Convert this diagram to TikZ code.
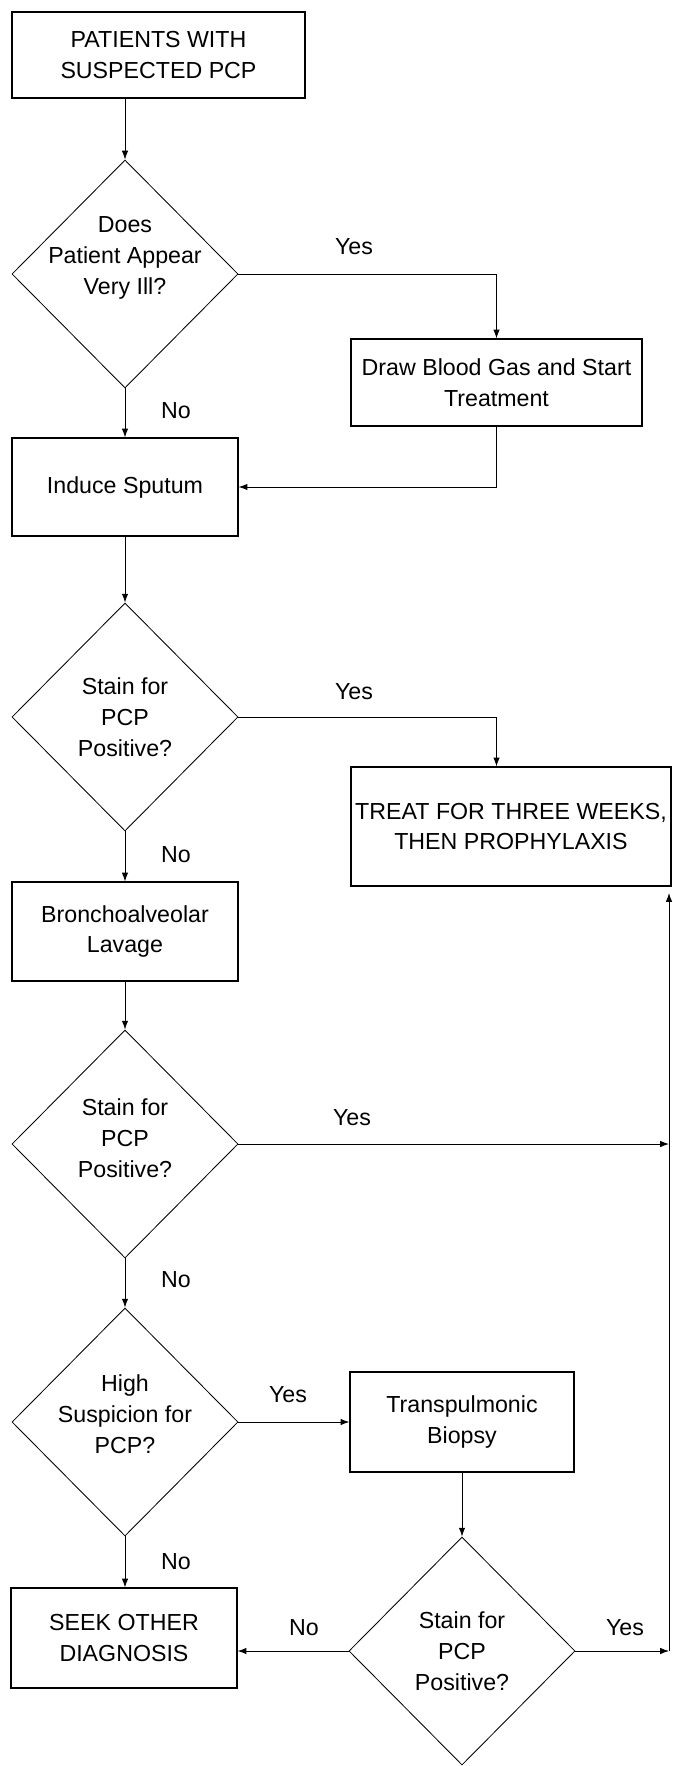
\documentclass[tikz,border=0pt]{standalone}
\usepackage{fontspec}
\setmainfont{Liberation Sans}
\usepackage{tikz}
\usetikzlibrary{
    positioning,
    arrows.meta,
    shapes.geometric,
}
\tikzset{
    % Basic node styles
    box/.style={rectangle, draw, line width=0.8pt, align=center, inner sep=2pt},
    decision/.style={diamond, draw, line width=0.6pt, align=center, inner sep=-10pt,
                     minimum width=5.65cm, minimum height=5.7cm},
    % Arrow styles
    arrow/.style={-{Latex[length=2.2mm, width=1.6mm]}, line width=0.6pt},
    % Annotation styles
    answer/.style={inner sep=0pt},
}

\begin{document}
\begin{tikzpicture}[x=0.025cm, y=-0.025cm, font=\fontsize{16.5}{22}\selectfont]
    \useasboundingbox (0,0) rectangle (672,1766);

    % Components
    \node[box, minimum width=7.325cm, minimum height=2.15cm] (patients) at (158.5,55) {PATIENTS WITH\\SUSPECTED PCP};
    \node[decision, text depth=26pt] (ill) at (125,274) {Does\\Patient Appear\\Very Ill?};
    \node[box, minimum width=7.275cm, minimum height=2.175cm] (gas) at (496.5,382.5) {Draw Blood Gas and Start\\Treatment};
    \node[box, minimum width=5.65cm, minimum height=2.45cm] (sputum) at (125,487) {Induce Sputum};
    \node[decision] (stain1) at (125,717) {Stain for\\PCP\\Positive?};
    \node[box, minimum width=8cm, minimum height=2.975cm] (treat) at (511,826.5) {TREAT FOR THREE WEEKS,\\THEN PROPHYLAXIS};
    \node[box, minimum width=5.65cm, minimum height=2.475cm] (lavage) at (125,931.5) {Bronchoalveolar\\Lavage};
    \node[decision, text depth=8.5pt] (stain2) at (125,1144) {Stain for\\PCP\\Positive?};
    \node[decision, text depth=11pt] (suspicion) at (125,1422) {High\\Suspicion for\\PCP?};
    \node[box, minimum width=5.6cm, minimum height=2.5cm] (biopsy) at (462,1422) {Transpulmonic\\Biopsy};
    \node[box, minimum width=5.65cm, minimum height=2.5cm] (seek) at (124,1638) {SEEK OTHER\\DIAGNOSIS};
    \node[decision] (stain3) at (462,1651) {Stain for\\PCP\\Positive?};
    \coordinate (rail) at (669,893);

    % Answers
    \node[answer] (yes1) at (354,247) {Yes};
    \node[answer] (no1) at (176,411) {No};
    \node[answer] (yes2) at (354,692) {Yes};
    \node[answer] (no2) at (176,855) {No};
    \node[answer] (yes3) at (352,1118) {Yes};
    \node[answer] (no3) at (176,1280) {No};
    \node[answer] (yes4) at (288,1395) {Yes};
    \node[answer] (no4) at (176,1562) {No};
    \node[answer] (no5) at (304,1628) {No};
    \node[answer] (yes5) at (625,1628) {Yes};

    % Arrows
    \draw[arrow] (ill.north |- patients.south) -- (ill.north);
    \draw[arrow] (ill.east) -| (gas.north);
    \draw[arrow] (ill.south) -- (sputum.north);
    \draw[arrow] (gas.south) |- (sputum.east);
    \draw[arrow] (sputum.south) -- (stain1.north);
    \draw[arrow] (stain1.east) -| (gas.south |- treat.north);
    \draw[arrow] (stain1.south) -- (lavage.north);
    \draw[arrow] (lavage.south) -- (stain2.north);
    \draw[arrow] (stain2.east) -- (stain2.east -| rail);
    \draw[arrow] (stain2.south) -- (suspicion.north);
    \draw[arrow] (suspicion.east) -- (biopsy.west);
    \draw[arrow] (suspicion.south) -- (suspicion.south |- seek.north);
    \draw[arrow] (biopsy.south) -- (stain3.north);
    \draw[arrow] (stain3.west) -- (stain3.west -| seek.east);
    \draw[arrow] (stain3.east) -- (stain3.east -| rail);
    \draw[arrow] (stain3.east -| rail) -- (rail);
\end{tikzpicture}
\end{document}
